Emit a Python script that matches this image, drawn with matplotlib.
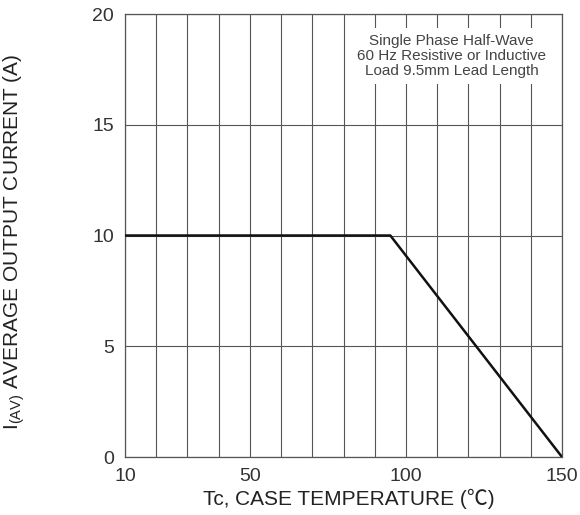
import matplotlib.pyplot as plt

# derating curve
temp = [10, 95, 150]
current = [10, 10, 0]

x_ticks = [10, 50, 100, 150]
y_ticks = [0, 5, 10, 15, 20]
grid_x = list(range(10, 151, 10))

fam = ['Liberation Sans', 'Noto Sans CJK SC', 'DejaVu Sans']
plt.rcParams['font.family'] = fam
plt.rcParams['mathtext.fontset'] = 'custom'
plt.rcParams['mathtext.rm'] = 'Liberation Sans'

fig = plt.figure(figsize=(5.8, 5.15), dpi=100)
ax = fig.add_axes([0.2155, 0.1126, 0.7535, 0.8602])

for gx in grid_x:
	ax.axvline(gx, color='#555555', lw=0.8, zorder=1)
for gy in y_ticks:
	ax.axhline(gy, color='#555555', lw=0.8, zorder=1)

ax.plot(temp, current, color='#111111', lw=1.8, zorder=3)

ax.set_xlim(10, 150)
ax.set_ylim(0, 20)
ax.set_xticks(x_ticks)
ax.set_yticks(y_ticks)
ax.tick_params(length=0, labelsize=14, colors='#333333')
ax.tick_params(axis='x', pad=8)
ax.tick_params(axis='y', pad=8)
for s in ax.spines.values():
	s.set_color('#555555')
	s.set_linewidth(0.9)

ax.set_xlabel('Tc, CASE TEMPERATURE (℃)', fontsize=15, color='#222222')
ax.xaxis.set_label_coords(0.513, -0.072)
ax.set_ylabel('I$_{\\mathregular{(AV)}}$ AVERAGE OUTPUT CURRENT (A)', fontsize=15, color='#222222')
ax.yaxis.set_label_coords(-0.225, 0.485)

ax.text(0.747, 0.956, 'Single Phase Half-Wave\n60 Hz Resistive or Inductive\nLoad 9.5mm Lead Length',
		transform=ax.transAxes, ha='center', va='top', fontsize=11, color='#444444',
		linespacing=1.12, zorder=4,
		bbox=dict(facecolor='white', edgecolor='none', pad=4))

fig.savefig('out.png', dpi=100)
